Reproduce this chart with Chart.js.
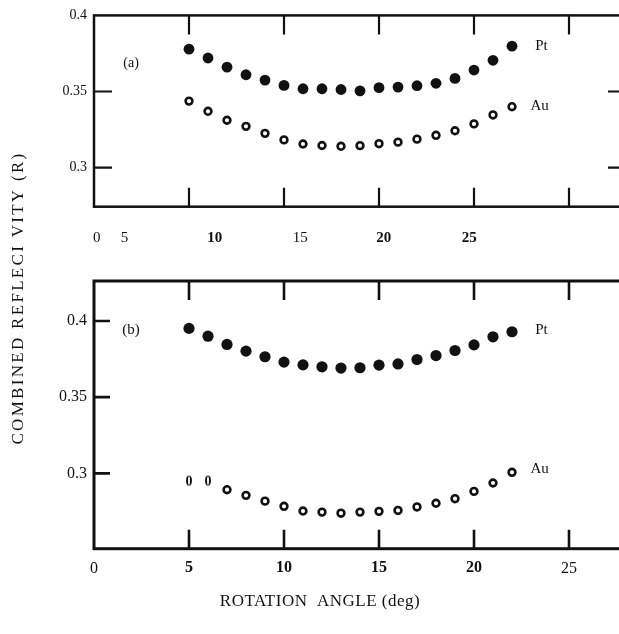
<!DOCTYPE html>
<html>
<head>
<meta charset="utf-8">
<script src="https://cdn.jsdelivr.net/npm/chart.js@4.4.0/dist/chart.umd.min.js"></script>
<style>
html, body { margin: 0; padding: 0; background: #fff; overflow: hidden; width: 619px; height: 634px; }
canvas { position: absolute; left: 0; top: 0; }
</style>
</head>
<body>
<canvas id="chartA" width="640" height="250"></canvas>
<canvas id="chartB" width="640" height="634"></canvas>
<script>
// rotation angle (deg), same points in both panels
var angles = [5, 6, 7, 8, 9, 10, 11, 12, 13, 14, 15, 16, 17, 18, 19, 20, 21, 22];
// panel (a)
var ptA = [0.3778, 0.372, 0.366, 0.361, 0.3575, 0.354, 0.3518, 0.3518, 0.3513, 0.3504, 0.3525, 0.3529, 0.3538, 0.3554, 0.3586, 0.3641, 0.3705, 0.3798];
var auA = [0.3437, 0.337, 0.3311, 0.3271, 0.3225, 0.3182, 0.3155, 0.3145, 0.314, 0.3144, 0.3157, 0.3167, 0.3187, 0.3212, 0.3242, 0.3287, 0.3346, 0.34];
// panel (b)
var ptB = [0.3951, 0.39, 0.3846, 0.3802, 0.3765, 0.373, 0.3712, 0.3699, 0.3691, 0.3693, 0.371, 0.3718, 0.3747, 0.3773, 0.3806, 0.3843, 0.3896, 0.3929];
var auB = [0.2946, 0.2946, 0.2893, 0.2856, 0.2818, 0.2784, 0.2753, 0.2746, 0.2739, 0.2746, 0.2751, 0.2757, 0.278, 0.2804, 0.2834, 0.2882, 0.2937, 0.3007];

var yTicks = [0.3, 0.35, 0.4];
var yLabels = ['0.3', '0.35', '0.4'];
// panel (a) numbers sit off their tick marks in the print
var xLabelPosA = [0.15, 1.6, 6.35, 10.85, 15.25, 19.75];
var xLabelsA = ['0', '5', '10', '15', '20', '25'];
var xBoldA = [false, false, true, false, true, true];
var xTicksB = [0, 5, 10, 15, 20, 25];
var xLabelsB = ['0', '5', '10', '15', '20', '25'];
var xBoldB = [false, true, true, true, true, false];
var tickMarks = [5, 10, 15, 20, 25];

var SERIF = '"Liberation Serif", "DejaVu Serif", serif';
var INK = '#111';

function pts(ys) {
  return angles.map(function (a, i) { return { x: a, y: ys[i] }; });
}

// the first two Au points in (b) print as a bold "0"
var zero = document.createElement('canvas');
zero.width = 12; zero.height = 16;
(function () {
  var g = zero.getContext('2d');
  g.fillStyle = INK;
  g.font = 'bold 14px ' + SERIF;
  g.textAlign = 'center';
  g.textBaseline = 'middle';
  g.fillText('0', 6, 8);
})();

var framePlugin = {
  id: 'frame',
  afterDatasetsDraw: function (chart, args, o) {
    var ctx = chart.ctx, a = chart.chartArea, x = chart.scales.x, y = chart.scales.y;
    ctx.save();
    ctx.strokeStyle = INK;
    ctx.lineWidth = o.width;
    ctx.strokeRect(a.left, a.top, a.right - a.left, a.bottom - a.top);
    ctx.lineWidth = o.tickWidth;
    ctx.beginPath();
    tickMarks.forEach(function (v) {
      var px = x.getPixelForValue(v);
      ctx.moveTo(px, a.top); ctx.lineTo(px, a.top + o.xLen);
      ctx.moveTo(px, a.bottom); ctx.lineTo(px, a.bottom - o.xLen);
    });
    o.yMarks.forEach(function (v) {
      var py = y.getPixelForValue(v);
      ctx.moveTo(a.left, py); ctx.lineTo(a.left + o.yLen, py);
      if (o.right) { ctx.moveTo(a.right, py); ctx.lineTo(a.right - o.yLen, py); }
    });
    ctx.stroke();
    ctx.restore();
  }
};

var textPlugin = {
  id: 'notes',
  afterDraw: function (chart, args, o) {
    var ctx = chart.ctx, x = chart.scales.x, y = chart.scales.y;
    ctx.save();
    ctx.fillStyle = INK;
    ctx.textBaseline = 'middle';
    (o.items || []).forEach(function (t) {
      ctx.font = t.size + 'px ' + SERIF;
      ctx.textAlign = 'center';
      ctx.fillText(t.text, x.getPixelForValue(t.x), y.getPixelForValue(t.y));
    });
    (o.titles || []).forEach(function (t) {
      ctx.save();
      ctx.font = t.size + 'px ' + SERIF;
      ctx.letterSpacing = t.spacing + 'px';
      ctx.textAlign = 'center';
      ctx.translate(t.px, t.py);
      ctx.rotate(t.rot);
      ctx.fillText(t.text, 0, 0);
      ctx.restore();
    });
    ctx.restore();
  }
};

function yScale(min, max, size, bold) {
  return {
    type: 'linear', min: min, max: max,
    afterFit: function (s) { s.width = 94; },
    afterBuildTicks: function (s) { s.ticks = yTicks.map(function (v) { return { value: v }; }); },
    grid: { display: false, drawTicks: false },
    border: { display: false },
    ticks: {
      padding: 7, color: INK,
      font: { family: SERIF, size: size, weight: bold ? 'bold' : 'normal' },
      callback: function (v, i) { return yLabels[i]; }
    }
  };
}

function xScale(pos, labels, boldList, size, height, pad) {
  return {
    type: 'linear', min: 0, max: 28,
    afterFit: function (s) { s.height = height; },
    afterBuildTicks: function (s) { s.ticks = pos.map(function (v) { return { value: v }; }); },
    grid: { display: false, drawTicks: false },
    border: { display: false },
    ticks: {
      padding: pad, color: INK, autoSkip: false, maxRotation: 0,
      font: function (c) { return { family: SERIF, size: size, weight: boldList[c.index] ? 'bold' : 'normal' }; },
      callback: function (v, i) { return labels[i]; }
    }
  };
}

function sets(pt, au, ptR, zeroes) {
  return [{
    label: 'Pt', data: pts(pt), showLine: false,
    pointRadius: ptR, pointBackgroundColor: INK, pointBorderColor: INK, pointBorderWidth: 0
  }, {
    label: 'Au', data: pts(au), showLine: false,
    pointRadius: 3.4, pointBackgroundColor: '#fff', pointBorderColor: INK, pointBorderWidth: 2.6,
    pointStyle: function (c) { return zeroes && c.dataIndex < 2 ? zero : 'circle'; }
  }];
}

var common = {
  responsive: false, animation: false,
  plugins: { legend: { display: false }, tooltip: { enabled: false } }
};

new Chart(document.getElementById('chartA'), {
  type: 'scatter',
  data: { datasets: sets(ptA, auA, 5.4, false) },
  options: Object.assign({}, common, {
    layout: { padding: { top: 14, left: 0, right: 14, bottom: 0 } },
    scales: {
      x: xScale(xLabelPosA, xLabelsA, xBoldA, 15, 43.3, 22),
      y: yScale(0.2743, 0.4, 14, false)
    },
    plugins: Object.assign({}, common.plugins, {
      frame: { width: 2.5, tickWidth: 2.2, xLen: 19, yLen: 18, yMarks: [0.3, 0.35], right: true },
      notes: { items: [
        { text: '(a)', x: 1.95, y: 0.3687, size: 14 },
        { text: 'Pt', x: 23.55, y: 0.3798, size: 15 },
        { text: 'Au', x: 23.45, y: 0.3407, size: 15 }
      ] }
    })
  }),
  plugins: [framePlugin, textPlugin]
});

new Chart(document.getElementById('chartB'), {
  type: 'scatter',
  data: { datasets: sets(ptB, auB, 5.6, true) },
  options: Object.assign({}, common, {
    layout: { padding: { top: 281, left: 0, right: 14, bottom: 0 } },
    scales: {
      x: xScale(xTicksB, xLabelsB, xBoldB, 16, 85.3, 10),
      y: yScale(0.2506, 0.4262, 16, false)
    },
    plugins: Object.assign({}, common.plugins, {
      frame: { width: 3, tickWidth: 2.6, xLen: 19, yLen: 16, yMarks: [0.3, 0.35, 0.4], right: false },
      notes: {
        items: [
          { text: '(b)', x: 1.95, y: 0.3939, size: 15 },
          { text: 'Pt', x: 23.55, y: 0.3939, size: 15 },
          { text: 'Au', x: 23.45, y: 0.3031, size: 15 }
        ],
        titles: [
          { text: 'COMBINED REFLECI VITY (R)', px: 19, py: 298, rot: -Math.PI / 2, size: 17, spacing: 2.3 },
          { text: 'ROTATION  ANGLE (deg)', px: 320, py: 602, rot: 0, size: 17, spacing: 0.5 }
        ]
      }
    })
  }),
  plugins: [framePlugin, textPlugin]
});
</script>
</body>
</html>
